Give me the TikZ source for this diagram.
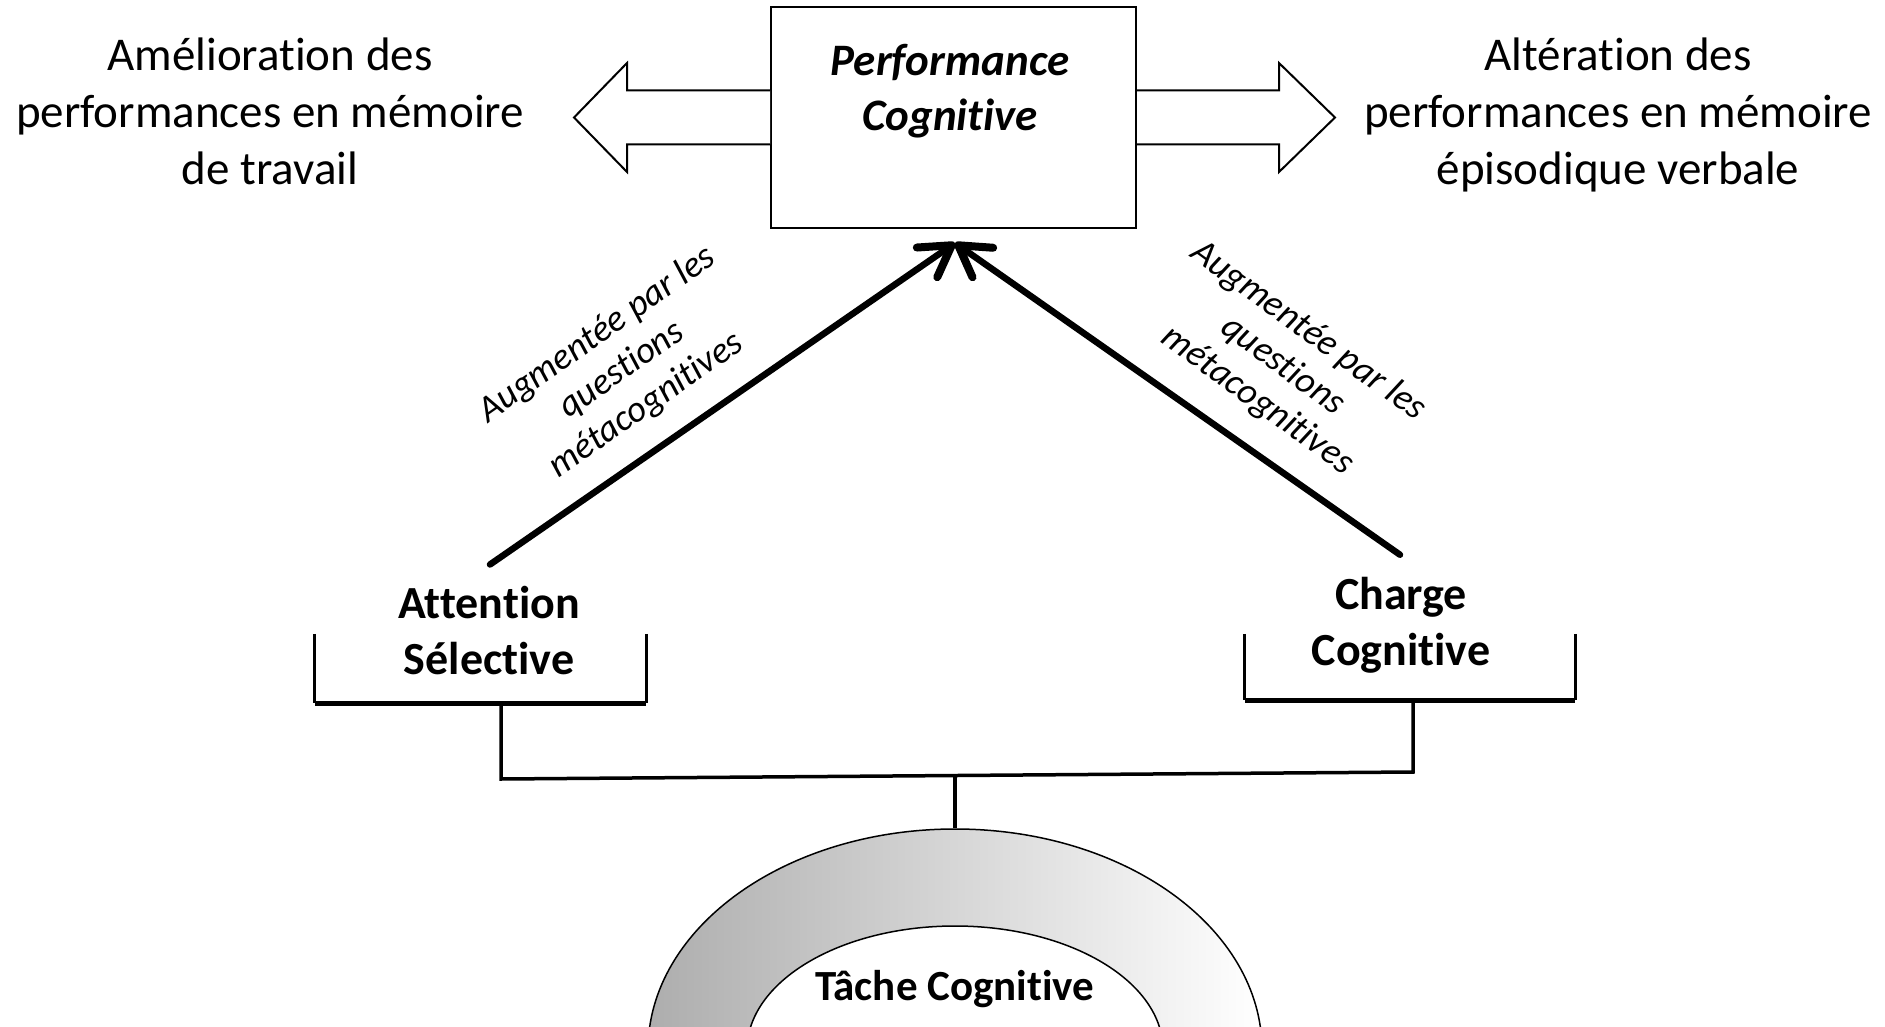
\documentclass[tikz,border=0pt]{standalone}
\usepackage{fontspec}
\setmainfont{Carlito}[Ligatures=CommonOff]
\usetikzlibrary{arrows.meta,shapes.geometric,calc}
\begin{document}
\begin{tikzpicture}[x=1pt,y=-1pt,
  sidetext/.style={align=center, font=\fontsize{47}{57}\selectfont, inner sep=0},
  factor/.style={align=center, font=\fontsize{46}{56}\selectfont\bfseries, inner sep=0},
  note/.style={align=center, font=\fontsize{37}{43}\selectfont\itshape, inner sep=0},
  outline/.style={draw=black, line width=2pt, fill=white},
  influence/.style={line width=6.5pt, line cap=round,
    -{Straight Barb[length=30pt,width=36pt,line width=8pt,round]}},
  link/.style={line width=3.5pt},
  bracketbase/.style={line width=5pt},
  bracketside/.style={line width=3pt},
]
\useasboundingbox (0,0) rectangle (1885,1027);
\fill[white] (0,0) rectangle (1885,1027);

% central box with its two block arrows
\node[outline, minimum width=365pt, minimum height=221pt, inner sep=0] (pbox) at (953.5,117.5) {};
\draw[outline] ($(pbox.west)+(0,-27)$) -- ++(-143,0) -- ++(0,-27.5) -- ++(-53,54.5)
  -- ++(53,54.5) -- ++(0,-27.5) -- ($(pbox.west)+(0,27)$);
\draw[outline] ($(pbox.east)+(0,-27)$) -- ++(142,0) -- ++(0,-27.5) -- ++(56,54.5)
  -- ++(-56,54.5) -- ++(0,-27.5) -- ($(pbox.east)+(0,27)$);
\node[align=center, inner sep=0, font=\fontsize{45}{55}\selectfont\bfseries\itshape]
  (perf) at (950,91) {Performance\\Cognitive};

% outcomes
\node[sidetext] (improve) at (270,111) {Amélioration des\\performances en mémoire\\de travail};
\node[sidetext] (impair) at (1618,115) {Altération des\\performances en mémoire\\épisodique verbale};

% factors and their brackets
\node[factor] (att) at (489,631) {Attention\\Sélective};
\node[factor] (chg) at (1401,625) {Charge\\Cognitive};

\path node[minimum width=331pt, minimum height=69pt, inner sep=0] (attbr) at (480.5,668.5) {};
\path node[minimum width=330pt, minimum height=66pt, inner sep=0] (chgbr) at (1410,667) {};
\foreach \b in {attbr,chgbr}{
  \draw[bracketside] (\b.north west) -- (\b.south west);
  \draw[bracketside] (\b.north east) -- (\b.south east);
  \draw[bracketbase] (\b.south west) -- (\b.south east);
}

% cognitive task
\node[ellipse, draw, line width=1.5pt, left color=black!32, right color=white,
  minimum width=614pt, minimum height=442pt, inner sep=0] (ring) at (955,1050) {};
\node[ellipse, draw, line width=1.5pt, fill=white,
  minimum width=416pt, minimum height=248pt, inner sep=0] (core) at (955,1050) {};
\node[font=\fontsize{43}{50}\selectfont\bfseries, inner sep=0] (task) at (955,989) {Tâche Cognitive};

% tree linking the task to both factors
\coordinate (jl) at (501,779);
\coordinate (jr) at (1413,772);
\coordinate (jm) at (955,775.5);
\draw[link] (attbr.south -| jl) -- (jl) -- (jr) -- (chgbr.south -| jr);
\draw[link] (jm) -- (ring.north);

% influences on performance
\coordinate (tip) at ($(pbox.south)+(1.5,14)$);
\draw[influence] ($(att.north)+(1,-22)$) -- (tip);
\draw[influence] ($(chg.north)+(-1,-22)$) -- (tip);

\node[note, rotate=35] (noteL) at (622,370) {Augmentée par les\\questions\\métacognitives};
\node[note, rotate=-36] (noteR) at (1283,366) {Augmentée par les\\questions\\métacognitives};
\end{tikzpicture}
\end{document}
